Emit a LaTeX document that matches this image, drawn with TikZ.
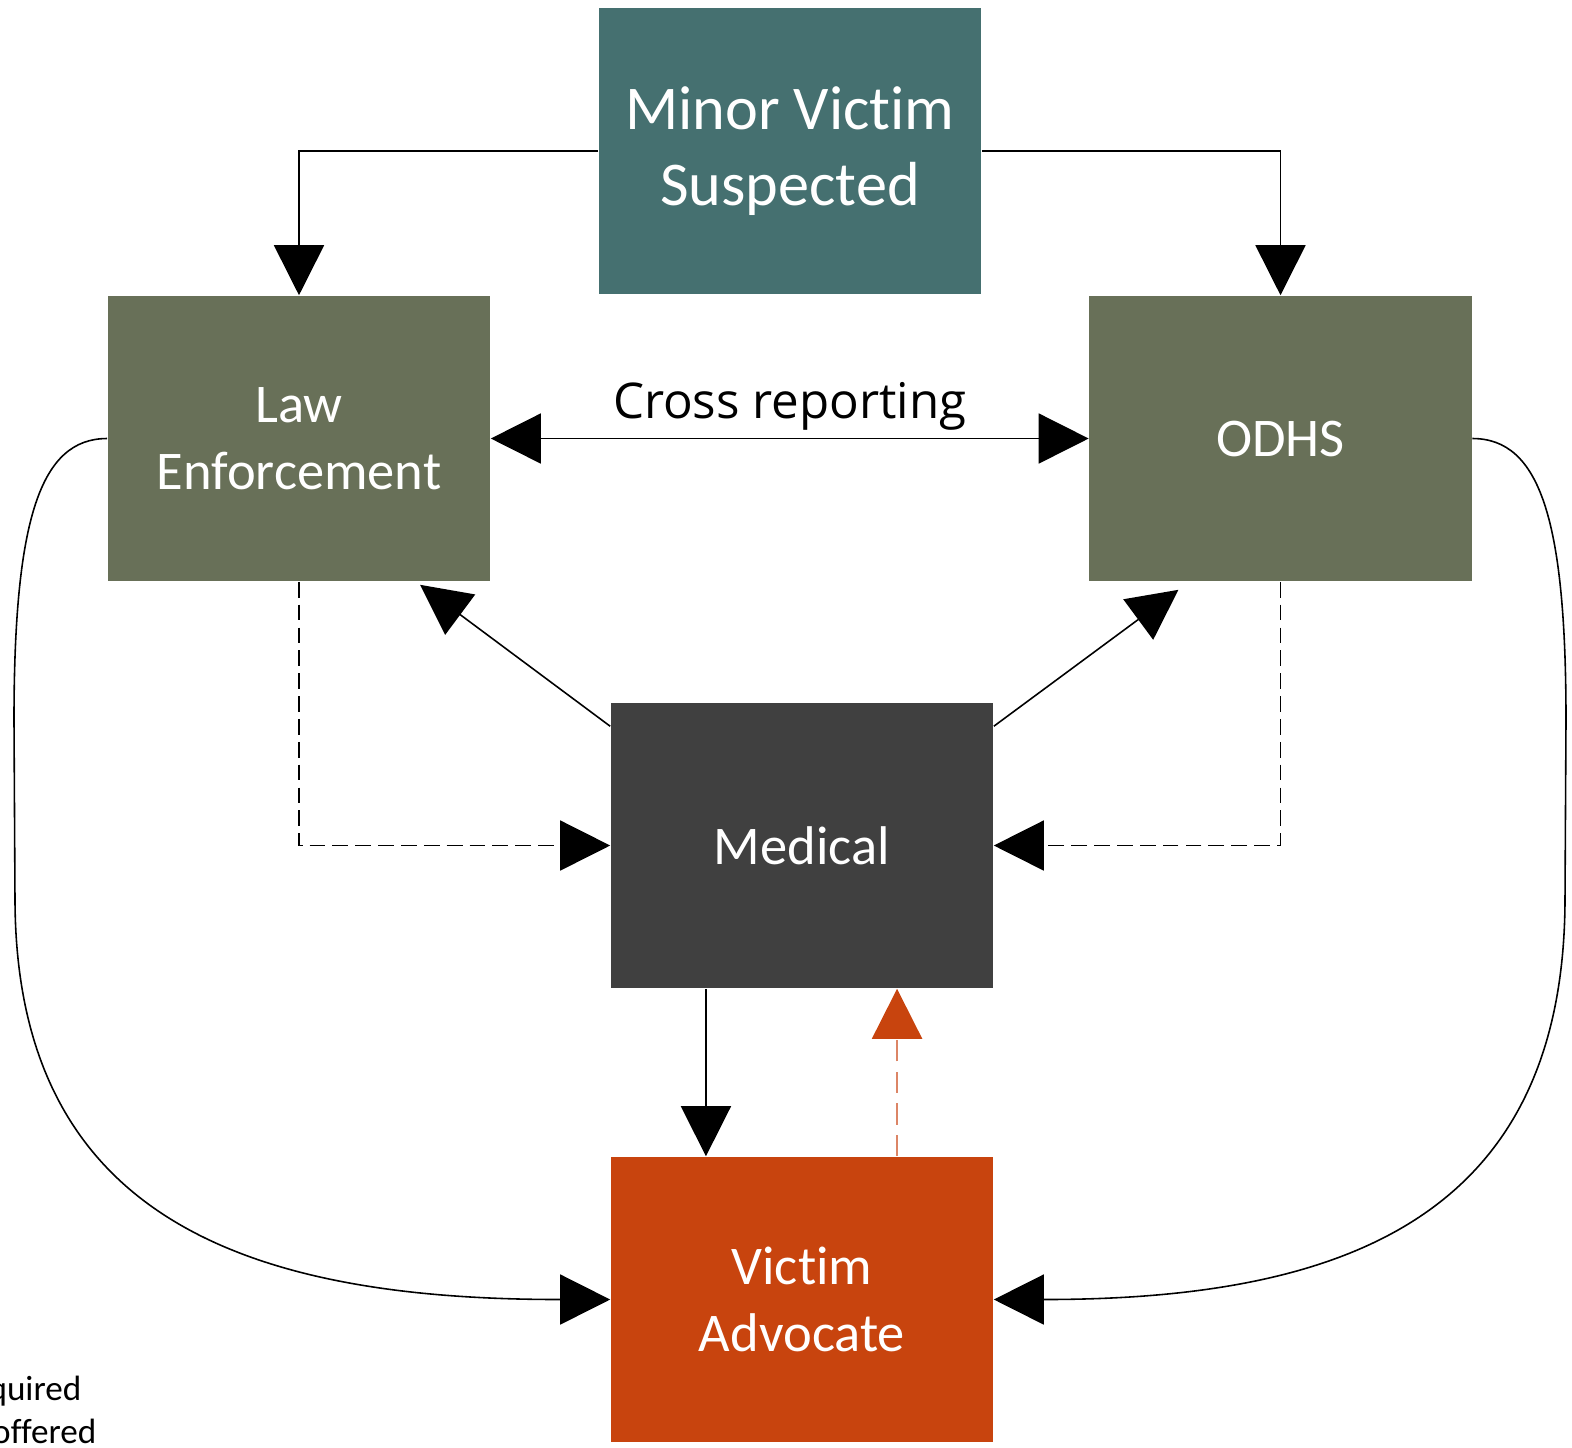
\documentclass[tikz,border=0pt]{standalone}
\usepackage{fontspec}
\setmainfont{Carlito}[Ligatures=NoCommon]
\newfontfamily\crossfont{Open Sans}
\usetikzlibrary{
    arrows.meta,
    positioning
}

\definecolor{tealbox}{HTML}{457070}
\definecolor{olivebox}{HTML}{687058}
\definecolor{darkbox}{HTML}{404040}
\definecolor{orangebox}{HTML}{C8440E}
\definecolor{orangeline}{HTML}{DC8566}

\tikzset{
    box/.style={minimum width=3.82cm, minimum height=2.85cm, inner sep=0pt,
                align=center, text=white, font=\fontsize{15.5}{19}\selectfont},
    arr/.style={-{Triangle[length=5mm, width=5mm]}, line width=0.45pt},
    dasharr/.style={arr, dash pattern=on 4.5pt off 2pt},
    legendtext/.style={inner sep=0pt, font=\fontsize{10}{12.2}\selectfont}
}

\begin{document}
\begin{tikzpicture}[x=0.01cm, y=-0.01cm]
    \useasboundingbox (0,0) rectangle (1572,1447);
    \clip (0,0) rectangle (1572,1447);

    % boxes
    \node[box, fill=tealbox, minimum height=2.86cm,
          font=\fontsize{17.7}{21.6}\selectfont] (minor) at (790,151) {Minor Victim\\Suspected};
    \node[box, fill=olivebox] (law) at (299,438.5) {Law\\Enforcement};
    \node[box, fill=olivebox] (odhs) at (1280.5,438.5) {ODHS};
    \node[box, fill=darkbox] (medical) at (802,845.5) {Medical};
    \node[box, fill=orangebox] (advocate) at (802,1299.5) {Victim\\Advocate};

    % legend (cut off at the left edge)
    \node[legendtext, anchor=base east] (required) at (82,1400) {required};
    \node[legendtext, anchor=base east] (offered) at (97,1443) {offered};

    % from the top box
    \draw[arr] (minor.west) -| (law.north);
    \draw[arr] (minor.east) -| (odhs.north);

    % cross reporting
    \draw[{Triangle[length=5mm, width=5mm]}-{Triangle[length=5mm, width=5mm]}, line width=0.45pt]
        (law.east) -- node[midway, anchor=base, yshift=0.2cm, font=\crossfont\fontsize{14}{17}\selectfont]
        (crosslabel) {Cross reporting} (odhs.west);

    % medical reports back
    \draw[arr] ([yshift=-0.24cm]medical.north west) -- ([xshift=1.21cm, yshift=-0.03cm]law.south);
    \draw[arr] ([yshift=-0.24cm]medical.north east) -- ([xshift=-1.02cm, yshift=-0.08cm]odhs.south);

    % dashed referrals to medical
    \draw[dasharr] (law.south) |- (medical.west);
    \draw[dasharr] (odhs.south) |- (medical.east);

    % medical and advocate
    \draw[arr] ([xshift=-0.96cm]medical.south) -- ([xshift=-0.96cm]advocate.north);
    \draw[-{Triangle[length=5mm, width=5mm, color=orangebox]}, orangeline, line width=0.6pt,
          dash pattern=on 6pt off 3pt]
        ([xshift=0.95cm]advocate.north) -- ([xshift=0.95cm]medical.south);

    % long curves to the advocate
    \draw[arr] (law.west) .. controls (40,438.5) and (14,520) .. (14,720)
        -- (15,900) .. controls (16,1220) and (250,1299.5) .. (advocate.west);
    \draw[arr] (odhs.east) .. controls (1540,438.5) and (1566,520) .. (1566,720)
        -- (1565,900) .. controls (1564,1220) and (1340,1299.5) .. (advocate.east);
\end{tikzpicture}
\end{document}
